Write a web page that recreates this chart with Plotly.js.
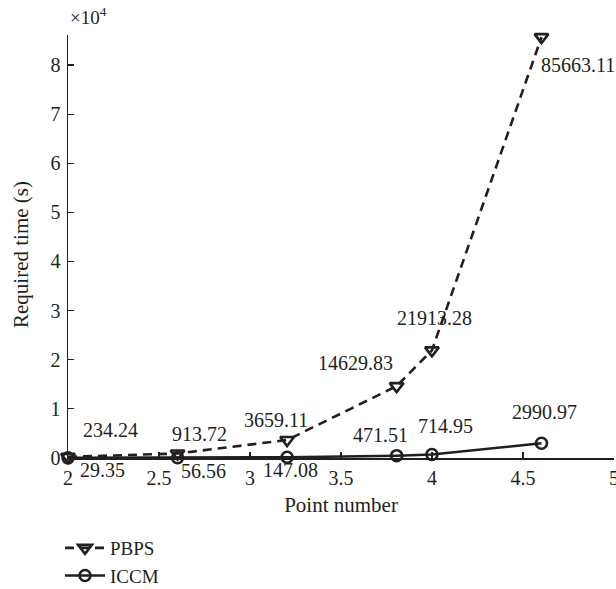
<!DOCTYPE html>
<html>
<head>
<meta charset="utf-8">
<script src="https://cdn.plot.ly/plotly-3.0.1.min.js"></script>
<style>html,body{margin:0;padding:0;background:#fff;}#chart{width:616px;height:589px;}</style>
</head>
<body>
<div id="chart"></div>
<script>
// log10 of point number
const xPoints = [2, 2.602, 3.204, 3.806, 4, 4.602];
const pbpsTimes = [234.24, 913.72, 3659.11, 14629.83, 21913.28, 85663.11];
const iccmTimes = [29.35, 56.56, 147.08, 471.51, 714.95, 2990.97];
const seriesNames = ['PBPS', 'ICCM'];
const xTickVals = [2, 2.5, 3, 3.5, 4, 4.5, 5];
const xTickText = ['2', '2.5', '3', '3.5', '4', '4.5', '5'];
const yTickVals = [0, 10000, 20000, 30000, 40000, 50000, 60000, 70000, 80000];
const yTickText = ['0', '1', '2', '3', '4', '5', '6', '7', '8'];
const xTitle = 'Point number';
const yTitle = 'Required time (s)';

// label offsets in pixels (style only)
const pbpsOffsets = [[42, 27], [22, 20], [-11, 20], [-41, 23], [3, 32], [37, -28]];
const iccmOffsets = [[34, -12], [26, -13], [3, -13], [-16, 21], [14, 28], [3, 31]];

const ink = '#231f20';
const fontFam = 'Liberation Serif, serif';

const traces = [
  {
    x: xPoints, y: pbpsTimes, name: seriesNames[0], type: 'scatter', mode: 'lines+markers',
    line: {color: ink, width: 2.6, dash: '9px,6px'},
    marker: {symbol: 'triangle-down-open', size: 12, color: ink, line: {width: 2.6, color: ink}},
    cliponaxis: false
  },
  {
    x: xPoints, y: iccmTimes, name: seriesNames[1], type: 'scatter', mode: 'lines+markers',
    line: {color: ink, width: 2.6},
    marker: {symbol: 'circle-open', size: 11, color: ink, line: {width: 2.6, color: ink}},
    cliponaxis: false
  }
];

const annotations = [];
pbpsTimes.forEach((v, i) => {
  annotations.push({x: xPoints[i], y: v, xref: 'x', yref: 'y', text: v.toFixed(2), showarrow: false,
    xshift: pbpsOffsets[i][0], yshift: pbpsOffsets[i][1], font: {family: fontFam, size: 20, color: ink}});
});
iccmTimes.forEach((v, i) => {
  annotations.push({x: xPoints[i], y: v, xref: 'x', yref: 'y', text: v.toFixed(2), showarrow: false,
    xshift: iccmOffsets[i][0], yshift: iccmOffsets[i][1], font: {family: fontFam, size: 20, color: ink}});
});
annotations.push({x: 0, y: 1, xref: 'paper', yref: 'paper', xanchor: 'left', yanchor: 'bottom', yshift: 5,
  text: '×10<sup>4</sup>', showarrow: false, font: {family: fontFam, size: 19, color: ink}});
annotations.push({x: 0, y: 0.48, xref: 'paper', yref: 'paper', xanchor: 'center', yanchor: 'middle',
  xshift: -47, textangle: -90, text: yTitle, showarrow: false,
  font: {family: fontFam, size: 21, color: ink}});

const layout = {
  width: 616, height: 589,
  margin: {l: 68, r: 2, t: 35, b: 131, pad: 0, autoexpand: false},
  paper_bgcolor: '#fff', plot_bgcolor: '#fff',
  font: {family: fontFam, size: 19, color: ink},
  showlegend: true,
  legend: {x: 60 / 616, y: 1 - 529 / 589, xref: 'container', yref: 'container',
    xanchor: 'left', yanchor: 'top', orientation: 'v',
    itemwidth: 40,
    font: {family: fontFam, size: 19, color: ink}, bgcolor: 'rgba(0,0,0,0)', tracegroupgap: 0},
  xaxis: {
    range: [2, 5.0005], tickvals: xTickVals, ticktext: xTickText,
    showgrid: false, zeroline: false, showline: true, linecolor: ink, linewidth: 1.5,
    ticks: 'inside', ticklen: 6, tickwidth: 1.2, tickcolor: ink,
    ticklabelstandoff: 1, ticklabeloverflow: 'allow', automargin: true,
    tickfont: {family: fontFam, size: 20, color: ink},
    title: {text: xTitle, font: {family: fontFam, size: 21, color: ink}, standoff: 10}
  },
  yaxis: {
    range: [0, 86100], tickvals: yTickVals, ticktext: yTickText,
    showgrid: false, zeroline: false, showline: true, linecolor: ink, linewidth: 1.5,
    ticks: 'inside', ticklen: 6, tickwidth: 1.2, tickcolor: ink,
    ticklabelstandoff: 2, ticklabeloverflow: 'allow', automargin: false,
    tickfont: {family: fontFam, size: 20, color: ink}
  },
  annotations: annotations
};

Plotly.newPlot('chart', traces, layout, {displayModeBar: false, staticPlot: true});
</script>
</body>
</html>
